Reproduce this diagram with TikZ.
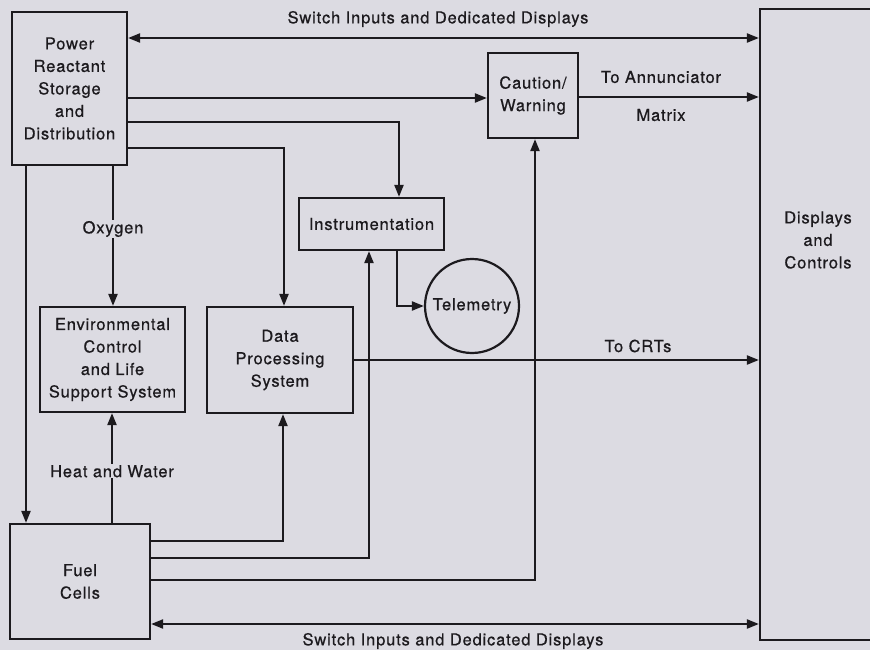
\documentclass[tikz,border=0pt]{standalone}
\usepackage{fontspec}
\setmainfont{TeX Gyre Heros}[LetterSpace=5,FakeBold=0.6]
\usetikzlibrary{arrows.meta}
\definecolor{bg}{RGB}{220,219,226}
\definecolor{ink}{RGB}{28,26,30}
\begin{document}
\begin{tikzpicture}[x=1pt,y=-1pt,
  font=\fontsize{16.5}{22.5}\selectfont, text=ink,
  box/.style={draw=ink, line width=2.2pt, rectangle, inner sep=0pt, align=center},
  wire/.style={draw=ink, line width=2.1pt},
  arr/.style={wire, -{Triangle[length=12pt,width=9pt]}},
  darr/.style={wire, {Triangle[length=12pt,width=9pt]}-{Triangle[length=12pt,width=9pt]}},
  lbl/.style={inner sep=1pt, fill=bg}]
\fill[bg] (0,0) rectangle (870,650);
\useasboundingbox (0,0) rectangle (870,650);

% blocks
\node[box, minimum width=115pt, minimum height=153pt] (pow) at (69.5,88.5) {Power\\Reactant\\Storage\\and\\Distribution};
\node[box, minimum width=90pt, minimum height=85pt] (caut) at (533,95.5) {Caution/\\Warning};
\node[box, minimum width=120pt, minimum height=631pt] (disp) at (820,324.5) {};
\node[align=center] (dispt) at (818,240) {Displays\\and\\Controls};
\node[box, minimum width=145pt, minimum height=52pt] (inst) at (371.5,224) {Instrumentation};
\node[draw=ink, line width=2.2pt, circle, minimum size=94pt, inner sep=0pt] (tel) at (472,306) {Telemetry};
\node[box, minimum width=146pt, minimum height=106pt] (dps) at (280,360) {Data\\Processing\\System};
\node[box, minimum width=145pt, minimum height=105pt] (ecl) at (112.5,359.5) {Environmental\\Control\\and Life\\Support System};
\node[box, minimum width=140pt, minimum height=115pt] (fuel) at (80,581.5) {Fuel\\Cells};

% labels
\node (ltop) at (438,19) {Switch Inputs and Dedicated Displays};
\node (lbot) at (453,641) {Switch Inputs and Dedicated Displays};
\node (lann) at (661,77) {To Annunciator};
\node (lmat) at (661,115) {Matrix};
\node (lcrt) at (638,346) {To CRTs};

% connectors
\draw[darr] (pow.east |- 0,38) -- (disp.west |- 0,38);
\draw[arr] (pow.east |- 0,98) -- (caut.west |- 0,98);
\draw[arr] (caut.east |- 0,97) -- (disp.west |- 0,97);
\draw[arr] (pow.east |- 0,122) -| (inst.north -| 399,0);
\draw[arr] (pow.east |- 0,148) -| (dps.north -| 284,0);
\draw[arr] (pow.south -| 26,0) -- (fuel.north -| 26,0);
\draw[arr] (pow.south -| 113,0) -- node[lbl, pos=0.45] (loxy) {Oxygen} (ecl.north -| 113,0);
\draw[arr] (fuel.north -| 112,0) -- node[lbl, pos=0.47] (lhw) {Heat and Water} (ecl.south -| 112,0);
\draw[arr] (inst.south -| 397,0) |- (tel.west);
\draw[arr] (dps.east |- 0,360) -- (disp.west |- 0,360);
\draw[arr] (fuel.east |- 0,541) -| (dps.south -| 283,0);
\draw[arr] (fuel.east |- 0,558) -| (inst.south -| 369,0);
\draw[arr] (fuel.east |- 0,580) -| (caut.south -| 535,0);
\draw[darr] (fuel.east |- 0,624) -- (disp.west |- 0,624);
\end{tikzpicture}
\end{document}
